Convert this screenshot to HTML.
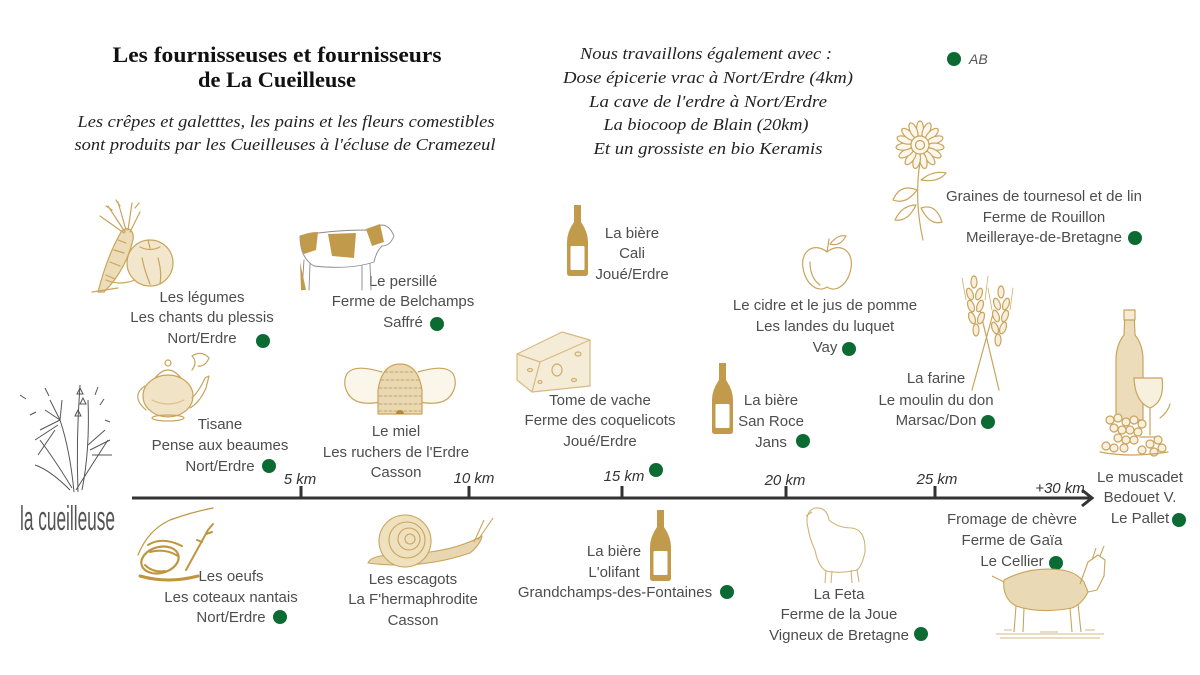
<!DOCTYPE html>
<html><head><meta charset="utf-8"><style>
html,body{margin:0;padding:0;background:#fff;}
body{width:1200px;height:675px;overflow:hidden;position:relative;}
svg{position:absolute;left:0;top:0;}
.l{font-family:"Liberation Sans",sans-serif;font-size:15px;fill:#4d4d4d;text-anchor:middle;}
.k{font-family:"Liberation Sans",sans-serif;font-size:15px;font-style:italic;fill:#333;text-anchor:middle;}
.t{font-family:"Liberation Serif",serif;font-weight:bold;font-size:22px;fill:#111;text-anchor:middle;}
.s{font-family:"Liberation Serif",serif;font-style:italic;font-size:17px;fill:#222;text-anchor:middle;}
</style></head><body>
<svg width="1200" height="675" viewBox="0 0 1200 675">
<!-- titles -->
<text class="t" x="277" y="62" textLength="329" lengthAdjust="spacingAndGlyphs">Les fournisseuses et fournisseurs</text>
<text class="t" x="277" y="87" textLength="158" lengthAdjust="spacingAndGlyphs">de La Cueilleuse</text>
<text class="s" x="286" y="127" textLength="417" lengthAdjust="spacingAndGlyphs">Les crêpes et galetttes, les pains et les fleurs comestibles</text>
<text class="s" x="285" y="150" textLength="421" lengthAdjust="spacingAndGlyphs">sont produits par les Cueilleuses à l'écluse de Cramezeul</text>

<text class="s" x="706" y="59" textLength="252" lengthAdjust="spacingAndGlyphs">Nous travaillons également avec :</text>
<text class="s" x="708" y="83" textLength="290" lengthAdjust="spacingAndGlyphs">Dose épicerie vrac à Nort/Erdre (4km)</text>
<text class="s" x="708" y="107" textLength="238" lengthAdjust="spacingAndGlyphs">La cave de l'erdre à Nort/Erdre</text>
<text class="s" x="706" y="130" textLength="205" lengthAdjust="spacingAndGlyphs">La biocoop de Blain (20km)</text>
<text class="s" x="708" y="154" textLength="229" lengthAdjust="spacingAndGlyphs">Et un grossiste en bio Keramis</text>

<circle cx="954" cy="59" r="7" fill="#0b6b33"/>
<text x="969" y="64" font-family="Liberation Sans,sans-serif" font-style="italic" font-size="14" fill="#555">AB</text>

<!-- axis -->
<g stroke="#333" stroke-width="3" fill="none">
<line x1="132" y1="498" x2="1091" y2="498"/>
<polyline points="1082,490 1092,498 1082,506" stroke-linejoin="miter"/>
<line x1="301" y1="486" x2="301" y2="498"/>
<line x1="469" y1="486" x2="469" y2="498"/>
<line x1="622" y1="486" x2="622" y2="498"/>
<line x1="786" y1="486" x2="786" y2="498"/>
<line x1="935" y1="486" x2="935" y2="498"/>
</g>
<text class="k" x="300" y="484">5 km</text>
<text class="k" x="474" y="483">10 km</text>
<text class="k" x="624" y="481">15 km</text>
<text class="k" x="785" y="485">20 km</text>
<text class="k" x="937" y="484">25 km</text>
<text class="k" x="1060" y="493">+30 km</text>

<!-- labels -->
<text class="l" x="202" y="302">Les légumes</text>
<text class="l" x="202" y="322">Les chants du plessis</text>
<text class="l" x="202" y="343">Nort/Erdre</text>

<text class="l" x="403" y="286">Le persillé</text>
<text class="l" x="403" y="306">Ferme de Belchamps</text>
<text class="l" x="403" y="327">Saffré</text>

<text class="l" x="220" y="429">Tisane</text>
<text class="l" x="220" y="450">Pense aux beaumes</text>
<text class="l" x="220" y="471">Nort/Erdre</text>

<text class="l" x="396" y="436">Le miel</text>
<text class="l" x="396" y="457">Les ruchers de l'Erdre</text>
<text class="l" x="396" y="477">Casson</text>

<text class="l" x="632" y="238">La bière</text>
<text class="l" x="632" y="258">Cali</text>
<text class="l" x="632" y="279">Joué/Erdre</text>

<text class="l" x="600" y="405">Tome de vache</text>
<text class="l" x="600" y="425">Ferme des coquelicots</text>
<text class="l" x="600" y="446">Joué/Erdre</text>

<text class="l" x="771" y="405">La bière</text>
<text class="l" x="771" y="426">San Roce</text>
<text class="l" x="771" y="447">Jans</text>

<text class="l" x="825" y="310">Le cidre et le jus de pomme</text>
<text class="l" x="825" y="331">Les landes du luquet</text>
<text class="l" x="825" y="352">Vay</text>

<text class="l" x="1044" y="201">Graines de tournesol et de lin</text>
<text class="l" x="1044" y="222">Ferme de Rouillon</text>
<text class="l" x="1044" y="242">Meilleraye-de-Bretagne</text>

<text class="l" x="936" y="383">La farine</text>
<text class="l" x="936" y="405">Le moulin du don</text>
<text class="l" x="936" y="425">Marsac/Don</text>

<text class="l" x="1140" y="482">Le muscadet</text>
<text class="l" x="1140" y="502">Bedouet V.</text>
<text class="l" x="1140" y="523">Le Pallet</text>

<text class="l" x="1012" y="524">Fromage de chèvre</text>
<text class="l" x="1012" y="545">Ferme de Gaïa</text>
<text class="l" x="1012" y="566">Le Cellier</text>

<text class="l" x="231" y="581">Les oeufs</text>
<text class="l" x="231" y="602">Les coteaux nantais</text>
<text class="l" x="231" y="622">Nort/Erdre</text>

<text class="l" x="413" y="584">Les escagots</text>
<text class="l" x="413" y="604">La F'hermaphrodite</text>
<text class="l" x="413" y="625">Casson</text>

<text class="l" x="614" y="556">La bière</text>
<text class="l" x="614" y="577">L'olifant</text>
<text class="l" x="615" y="597">Grandchamps-des-Fontaines</text>

<text class="l" x="839" y="599">La Feta</text>
<text class="l" x="839" y="619">Ferme de la Joue</text>
<text class="l" x="839" y="640">Vigneux de Bretagne</text>

<!-- dots -->
<g fill="#0b6b33">
<circle cx="263" cy="341" r="7"/><circle cx="437" cy="324" r="7"/><circle cx="269" cy="466" r="7"/>
<circle cx="656" cy="470" r="7"/><circle cx="803" cy="441" r="7"/><circle cx="849" cy="349" r="7"/>
<circle cx="1135" cy="238" r="7"/><circle cx="988" cy="422" r="7"/><circle cx="1179" cy="520" r="7"/>
<circle cx="1056" cy="563" r="7"/><circle cx="280" cy="617" r="7"/><circle cx="727" cy="592" r="7"/>
<circle cx="921" cy="634" r="7"/>
</g>

<!-- logo -->
<g stroke="#555" stroke-width="1" fill="none">
<path d="M78,492 Q76,440 80,385"/><path d="M74,492 Q70,450 60,420"/><path d="M82,490 Q90,450 88,400"/>
<path d="M76,490 Q95,460 108,440"/><path d="M72,488 Q55,460 40,440"/><path d="M70,490 Q50,470 35,465"/>
<path d="M80,388 l-3,6 l6,0 z M83,398 l-3,6 l6,0z M78,410 l-3,6 l6,0z"/>
<path d="M60,420 L40,430 M60,420 L45,410 M60,420 L50,400 M60,420 L62,400 M58,425 L35,440 M55,430 L38,455"/>
<path d="M90,450 L110,440 M92,455 L112,455 M88,445 L105,430"/>
<path d="M20,395 l6,4 M45,388 l4,8 M30,415 l6,-3 M100,405 l4,-6 M105,420 l5,2 M95,395 l3,-8"/>
</g>
<text x="20" y="530" font-family="Liberation Sans Narrow,Liberation Sans,sans-serif" font-size="34" fill="#555" textLength="95" lengthAdjust="spacingAndGlyphs">la cueilleuse</text>

<!-- illustrations -->
<g stroke="#c9a45c" stroke-width="1.2" fill="none" stroke-linejoin="round" stroke-linecap="round">
<!-- carrot + tomato -->
<path d="M98,292 C104,268 112,248 121,232 C127,225 135,230 133,240 C128,260 118,278 104,292 Z" fill="#ecdcb8"/>
<path d="M110,262 l10,4 M114,250 l10,3 M106,275 l9,4 M118,240 l8,3"/>
<path d="M125,232 L108,206 M126,230 L118,202 M128,230 L132,203 M130,232 L140,212 M124,233 L100,216 M112,210 l-6,-4 M120,206 l-4,-6 M135,208 l4,-5"/>
<path d="M92,292 L118,288" />
<circle cx="150" cy="263" r="23" fill="#f2e6cd"/>
<path d="M140,247 Q150,252 160,247 M148,240 L150,248 M142,258 Q145,272 150,284 M158,258 Q162,272 160,284"/>
<path d="M106,280 Q120,286 135,280" />
<!-- cow -->
<g stroke="#8a8a8a" stroke-width="0.9">
<path d="M300,236 Q330,230 368,230 L378,226 Q388,222 394,236 Q390,246 382,246 Q376,252 374,262 Q350,270 314,266 Q300,258 300,236 Z" fill="#fff"/>
<path d="M304,260 L302,290 M310,264 L309,290 M362,266 L362,290 M370,264 L371,290"/>
</g>
<g fill="#c29a4b" stroke="none">
<path d="M300,236 Q308,232 318,232 L316,250 L304,254 Q300,248 300,236Z"/>
<path d="M328,234 L356,233 L354,258 L332,256 Z"/>
<path d="M366,229 L380,224 L384,242 L372,246 Z"/>
<path d="M300,262 L306,290 L301,290Z"/>
</g>
<!-- teapot -->
<ellipse cx="168" cy="396" rx="25" ry="21" fill="#f0e3c6"/>
<path d="M155,378 Q168,362 181,378"/><circle cx="168" cy="363" r="3"/>
<path d="M145,386 Q130,396 146,410"/>
<path d="M192,398 Q200,390 205,378 L209,376 L206,388 Q200,402 190,408"/>
<ellipse cx="168" cy="418" rx="16" ry="3"/>
<path d="M192,370 Q198,362 192,356 Q202,350 209,358 Q205,367 198,366"/>
<path d="M152,400 q16,8 32,0" stroke="#dcc08a"/>
<!-- beehive -->
<path d="M382,372 Q342,360 345,386 Q350,408 380,402" fill="#fbf6ea"/>
<path d="M418,372 Q458,360 455,386 Q450,408 420,402" fill="#fbf6ea"/>
<path d="M378,414 L378,390 Q382,364 400,364 Q418,364 422,390 L422,414 Z" fill="#e9d8b2"/>
<path d="M385,372 h30 M381,380 h38 M379,388 h42 M379,396 h42 M379,404 h42 M379,411 h42" stroke="#b99550" stroke-width="0.8" stroke-dasharray="3,2"/>
<path d="M396,414 a4,4 0 0 1 8,0 z" fill="#b48a36" stroke="none"/>
<!-- cheese -->
<path d="M517,354 L562,332 L590,340 L590,386 L532,392 L517,380 Z" fill="#f5ecd8" stroke="#d6ba80"/>
<path d="M517,354 L540,362 L590,340 M540,362 L532,392" stroke="#d6ba80"/>
<ellipse cx="557" cy="370" rx="5" ry="6" stroke="#cfae6e"/>
<ellipse cx="530" cy="370" rx="2.5" ry="1.5" stroke="#cfae6e"/>
<ellipse cx="574" cy="380" rx="2.5" ry="1.5" stroke="#cfae6e"/>
<ellipse cx="578" cy="354" rx="3" ry="2" stroke="#cfae6e"/>
<ellipse cx="540" cy="382" rx="2" ry="1.5" stroke="#cfae6e"/>
<!-- apple -->
<path d="M827,252 C815,242 800,250 803,268 C806,285 818,293 827,287 C836,293 848,285 851,268 C854,250 839,242 827,252 Z"/>
<path d="M827,252 L829,239 M830,244 Q838,234 846,236 Q840,247 830,244 Z M810,262 Q810,278 820,285"/>
<!-- sunflower -->
<g fill="#fcf7ec">
<ellipse cx="920" cy="129" rx="3.5" ry="8"/><ellipse cx="920" cy="129" rx="3.5" ry="8" transform="rotate(24 920 145)"/>
<ellipse cx="920" cy="129" rx="3.5" ry="8" transform="rotate(48 920 145)"/><ellipse cx="920" cy="129" rx="3.5" ry="8" transform="rotate(72 920 145)"/>
<ellipse cx="920" cy="129" rx="3.5" ry="8" transform="rotate(96 920 145)"/><ellipse cx="920" cy="129" rx="3.5" ry="8" transform="rotate(120 920 145)"/>
<ellipse cx="920" cy="129" rx="3.5" ry="8" transform="rotate(144 920 145)"/><ellipse cx="920" cy="129" rx="3.5" ry="8" transform="rotate(168 920 145)"/>
<ellipse cx="920" cy="129" rx="3.5" ry="8" transform="rotate(192 920 145)"/><ellipse cx="920" cy="129" rx="3.5" ry="8" transform="rotate(216 920 145)"/>
<ellipse cx="920" cy="129" rx="3.5" ry="8" transform="rotate(240 920 145)"/><ellipse cx="920" cy="129" rx="3.5" ry="8" transform="rotate(264 920 145)"/>
<ellipse cx="920" cy="129" rx="3.5" ry="8" transform="rotate(288 920 145)"/><ellipse cx="920" cy="129" rx="3.5" ry="8" transform="rotate(312 920 145)"/>
<ellipse cx="920" cy="129" rx="3.5" ry="8" transform="rotate(336 920 145)"/>
<circle cx="920" cy="145" r="9"/><circle cx="920" cy="145" r="4.5"/>
</g>
<path d="M920,162 Q914,200 923,240"/>
<path d="M917,190 Q900,183 893,200 Q906,205 917,190 Z M921,180 Q933,170 946,173 Q938,183 921,180 Z M921,208 Q936,203 942,222 Q930,226 921,208 Z M916,205 Q902,205 895,220 Q908,222 916,205 Z"/>
<!-- wheat -->
<path d="M972,390 L994,310 M999,390 L980,310"/>
<g fill="#f7eedb">
<ellipse cx="974" cy="282" rx="3" ry="6"/><ellipse cx="970" cy="294" rx="3" ry="6" transform="rotate(-20 970 294)"/><ellipse cx="979" cy="294" rx="3" ry="6" transform="rotate(20 979 294)"/>
<ellipse cx="971" cy="306" rx="3" ry="6" transform="rotate(-20 971 306)"/><ellipse cx="980" cy="306" rx="3" ry="6" transform="rotate(20 980 306)"/>
<ellipse cx="972" cy="318" rx="3" ry="6" transform="rotate(-20 972 318)"/><ellipse cx="981" cy="318" rx="3" ry="6" transform="rotate(20 981 318)"/>
<ellipse cx="976" cy="330" rx="3" ry="6"/>
<ellipse cx="1001" cy="292" rx="3" ry="6"/><ellipse cx="997" cy="304" rx="3" ry="6" transform="rotate(-20 997 304)"/><ellipse cx="1006" cy="304" rx="3" ry="6" transform="rotate(20 1006 304)"/>
<ellipse cx="996" cy="316" rx="3" ry="6" transform="rotate(-20 996 316)"/><ellipse cx="1005" cy="316" rx="3" ry="6" transform="rotate(20 1005 316)"/>
<ellipse cx="995" cy="328" rx="3" ry="6" transform="rotate(-20 995 328)"/><ellipse cx="1003" cy="328" rx="3" ry="6" transform="rotate(20 1003 328)"/>
<ellipse cx="998" cy="340" rx="3" ry="6"/>
</g>
<path d="M966,300 L962,278 M985,300 L988,276 M992,310 L988,288 M1010,310 L1013,288" stroke-width="0.7"/>
<!-- wine -->
<path d="M1125,312 L1134,312 L1135,335 Q1143,345 1143,360 L1143,420 L1116,420 L1116,360 Q1116,345 1124,335 Z" fill="#eddcb9"/>
<rect x="1124" y="310" width="11" height="10" fill="#f5ead4"/>
<path d="M1134,378 L1162,378 Q1165,402 1150,408 Q1135,402 1134,378 Z" fill="#f8f0df"/>
<path d="M1150,408 L1150,435 M1140,437 L1160,437"/>
<g fill="#f8efdc">
<circle cx="1110" cy="420" r="4"/><circle cx="1118" cy="418" r="4"/><circle cx="1126" cy="422" r="4"/><circle cx="1134" cy="420" r="4"/>
<circle cx="1142" cy="424" r="4"/><circle cx="1114" cy="428" r="4"/><circle cx="1122" cy="430" r="4"/><circle cx="1130" cy="430" r="4"/>
<circle cx="1138" cy="432" r="4"/><circle cx="1118" cy="438" r="4"/><circle cx="1126" cy="440" r="4"/><circle cx="1134" cy="440" r="4"/>
<circle cx="1106" cy="446" r="4"/><circle cx="1114" cy="448" r="4"/><circle cx="1124" cy="448" r="4"/><circle cx="1150" cy="444" r="4"/>
<circle cx="1158" cy="440" r="4"/><circle cx="1162" cy="448" r="4"/><circle cx="1154" cy="452" r="4"/><circle cx="1142" cy="450" r="4"/>
</g>
<path d="M1100,452 Q1130,458 1168,452 M1160,418 Q1168,412 1170,404"/>
</g>

<!-- bottles -->
<g fill="#c29a4b">
<path d="M574,205 L581,205 L581,222 Q588,232 588,242 L588,273 Q588,276 585,276 L570,276 Q567,276 567,273 L567,242 Q567,232 574,222 Z"/>
<path transform="translate(145,158)" d="M574,205 L581,205 L581,222 Q588,232 588,242 L588,273 Q588,276 585,276 L570,276 Q567,276 567,273 L567,242 Q567,232 574,222 Z"/>
<path transform="translate(83,305)" d="M574,205 L581,205 L581,222 Q588,232 588,242 L588,273 Q588,276 585,276 L570,276 Q567,276 567,273 L567,242 Q567,232 574,222 Z"/>
</g>
<g fill="#fff">
<rect x="570.5" y="246" width="14" height="24" rx="1"/>
<rect x="715.5" y="404" width="14" height="24" rx="1"/>
<rect x="653.5" y="551" width="14" height="24" rx="1"/>
</g>

<g stroke="#bf953f" stroke-width="2" fill="none" stroke-linecap="round" stroke-linejoin="round">
<!-- egg + hand -->
<ellipse cx="160" cy="560" rx="19" ry="13" transform="rotate(-15 160 560)" stroke-width="2.2"/>
<path d="M138,555 Q148,530 170,520 Q192,512 213,508" stroke-width="1.2"/>
<path d="M148,545 Q162,536 182,546 M150,552 Q165,548 178,556"/>
<path d="M186,570 Q198,548 208,530 L213,524 M206,534 l6,-2 M202,542 l-5,-2"/>
<path d="M140,576 Q168,584 198,576" stroke-width="3"/>
<path d="M145,565 q8,8 20,6" />
</g>

<g stroke="#c9a45c" stroke-width="1.1" fill="none" stroke-linejoin="round">
<!-- snail -->
<path d="M368,563 Q420,570 470,553 Q480,545 482,536 Q460,548 430,552 L380,556 Q370,558 368,563 Z" fill="#e8d6b0"/>
<circle cx="405" cy="541" r="26" fill="#efe0be"/>
<circle cx="407" cy="540" r="18"/><circle cx="409" cy="539" r="11"/><circle cx="410" cy="539" r="5"/>
<path d="M478,540 L493,518 M474,542 L484,520"/>
<!-- sheep -->
<g stroke="#d2b377" fill="#fff">
<path d="M808,528 Q804,512 815,508 Q827,507 829,520 Q838,528 852,528 Q866,530 865,552 Q862,566 857,570 Q840,574 826,571 Q818,566 815,550 Q810,540 808,528 Z"/>
<path d="M826,570 L825,583 M832,571 L831,583 M851,570 L852,583 M857,569 L859,582" fill="none"/>
<path d="M812,512 L806,516" fill="none"/>
</g>
<!-- goat -->
<path d="M1004,580 Q1030,566 1062,570 Q1076,572 1084,582 L1088,592 Q1082,604 1072,608 Q1040,614 1016,606 Q1002,598 1004,580 Z" fill="#ead9b5"/>
<path d="M1080,584 L1088,562 L1098,555 L1105,560 L1104,576 L1097,590 L1088,592"/>
<path d="M1092,560 L1096,548 M1100,556 L1104,546"/>
<path d="M1004,582 L992,576"/>
<path d="M1016,606 L1014,632 M1024,608 L1023,632 M1070,608 L1072,632 M1078,604 L1081,632"/>
<path d="M996,634 L1104,634 M1000,638 L1100,638 M1004,630 l8,0 M1040,632 l18,0 M1085,630 l10,0" stroke-width="0.8"/>
</g>
</svg>
</body></html>
